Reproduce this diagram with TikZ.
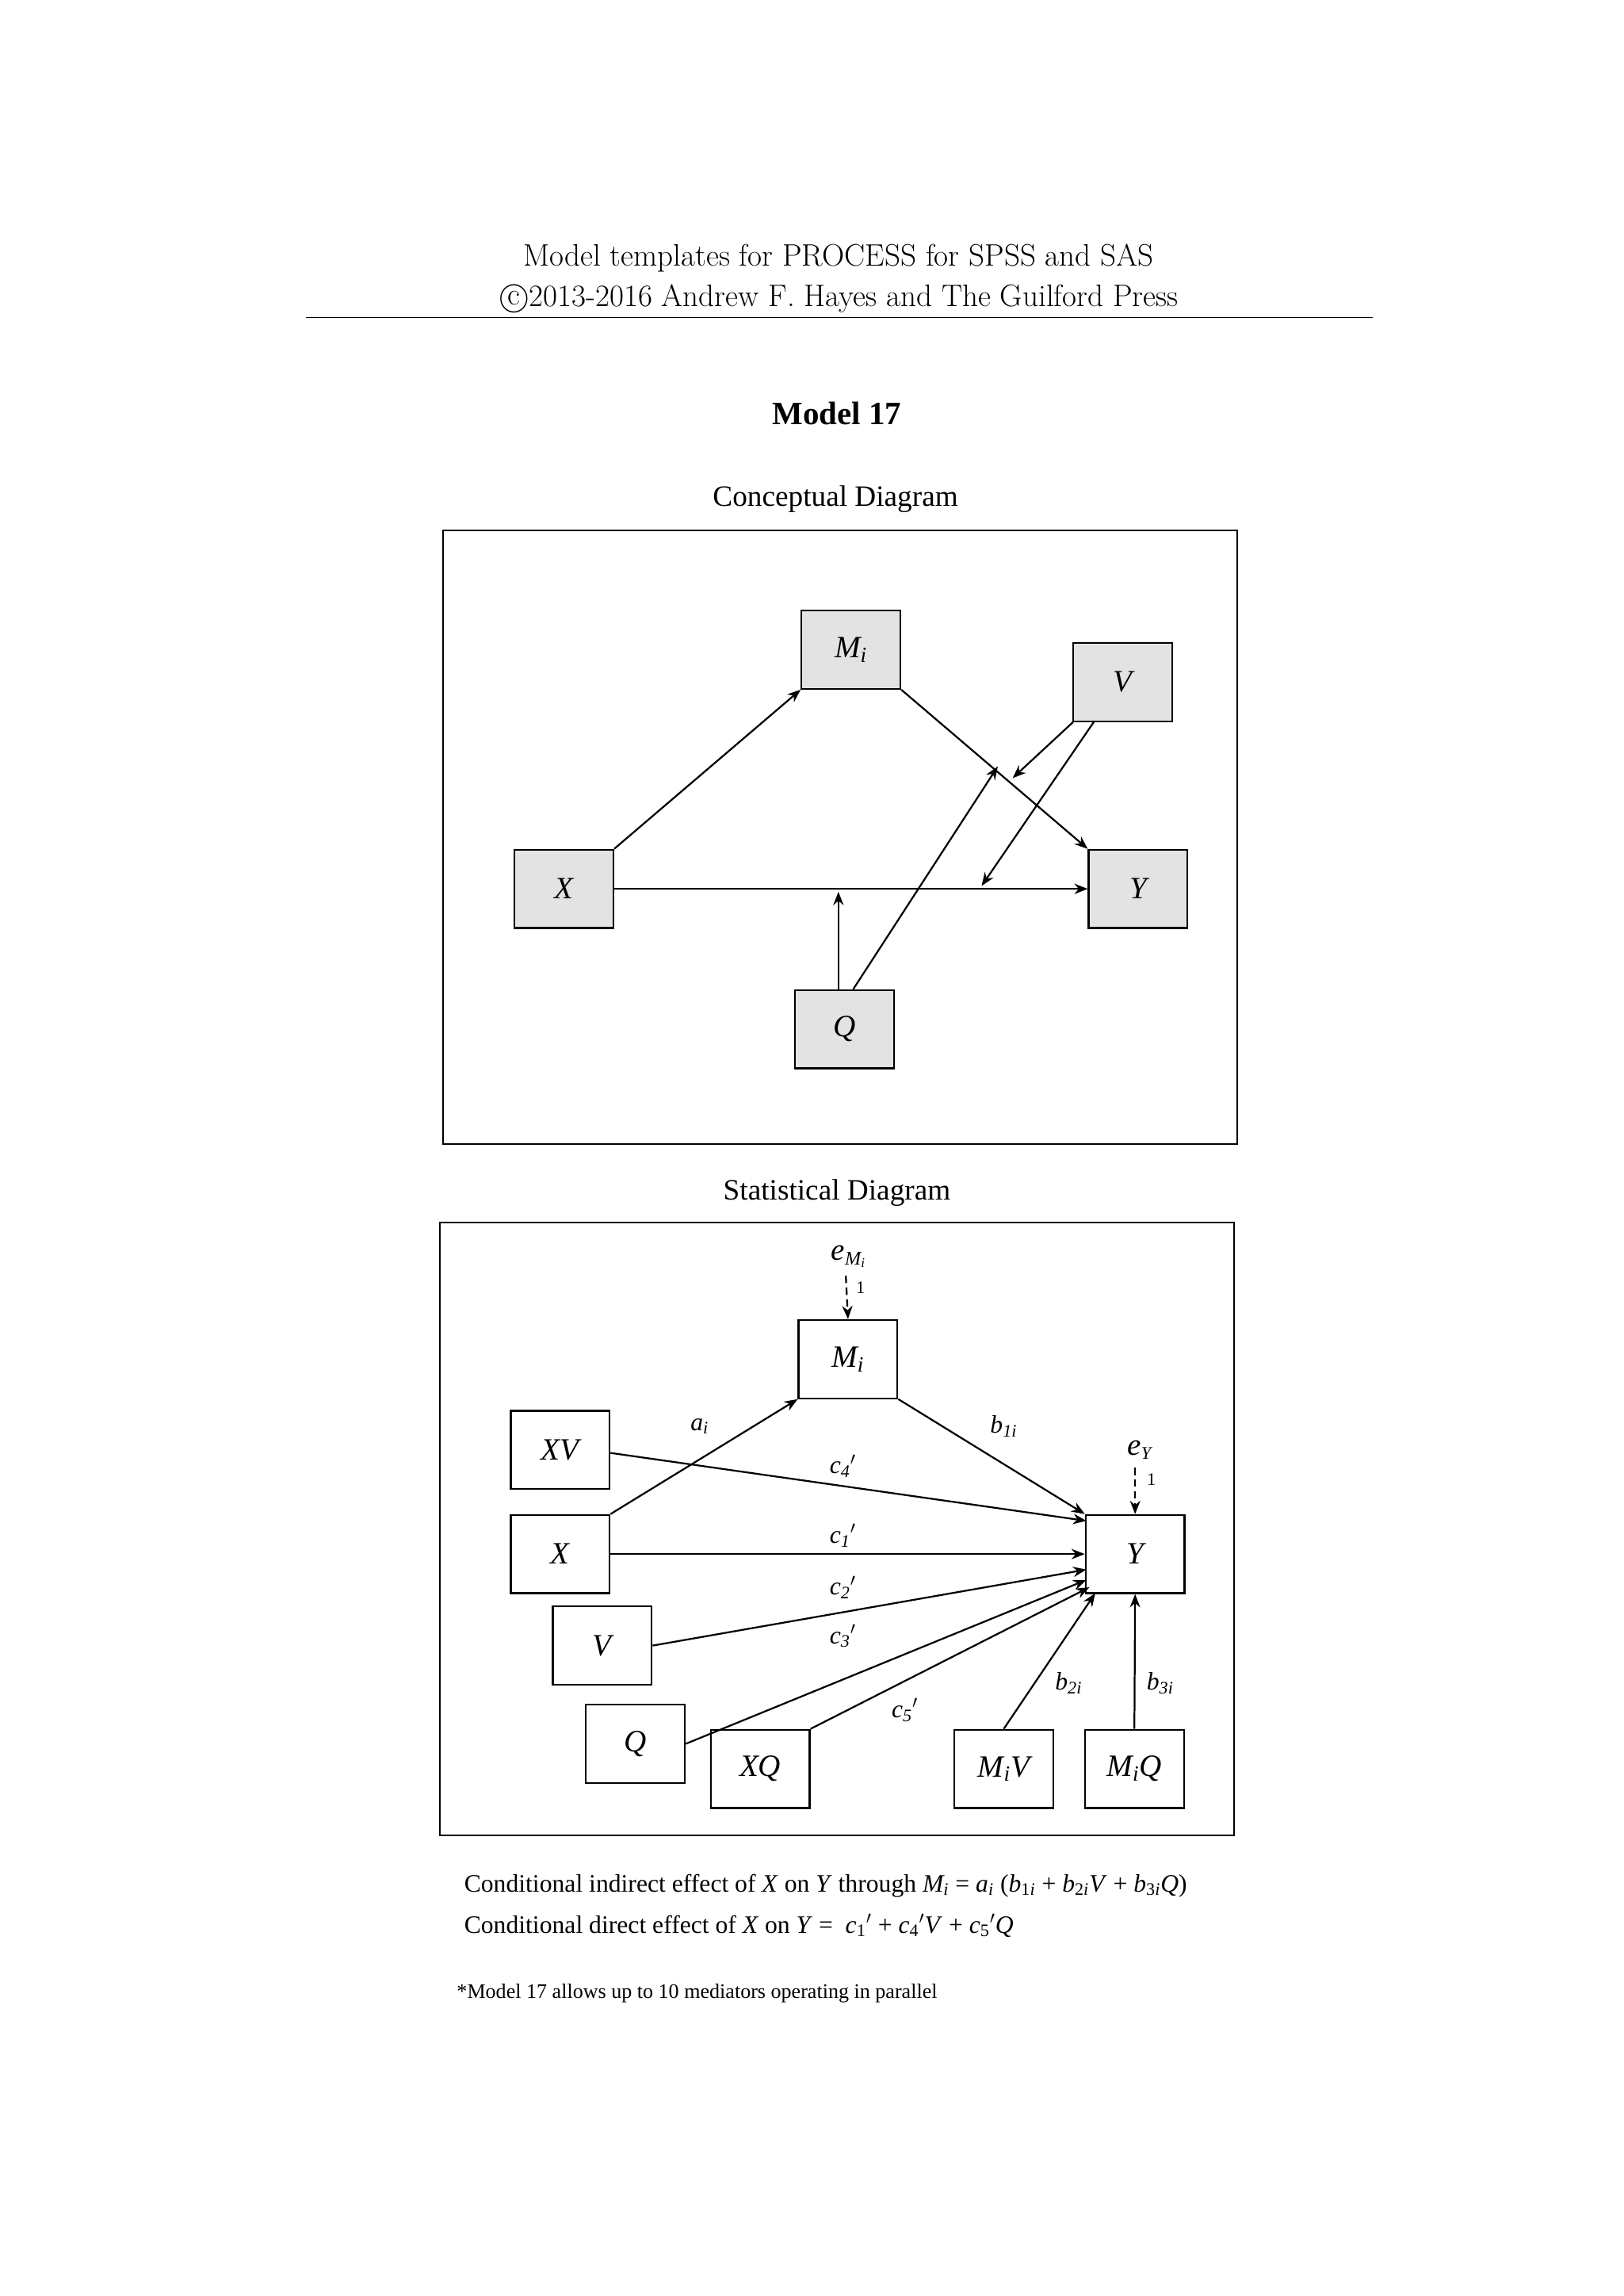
\documentclass[tikz,border=0pt]{standalone}
\usepackage{fontspec}
\newfontfamily\tms{Liberation Serif}
\usetikzlibrary{arrows.meta}
\newcommand{\iv}[1]{\textit{#1}}
\newcommand{\sbs}[1]{\textsubscript{\textit{#1}}}
\begin{document}
\begin{tikzpicture}[x=1pt,y=-1pt,
  box/.style={draw,line width=1.2pt,minimum width=67pt,minimum height=53pt,inner sep=0pt,font=\tms\fontsize{21}{21}\selectfont\itshape},
  gbox/.style={box,fill=gray!22},
  arr/.style={line width=1.2pt,-{Stealth[length=9pt,width=7pt]}},
  darr/.style={arr,dash pattern=on 5pt off 3pt},
  lab/.style={font=\tms\fontsize{17}{17}\selectfont\itshape,inner sep=1pt},
  one/.style={font=\tms\fontsize{12}{12}\selectfont}]
\useasboundingbox (0,0) rectangle (1100,1555);
% header
\node (h1) at (568,175) {\fontsize{21}{21}\selectfont Model templates for PROCESS for SPSS and SAS};
\node (h2) at (568,202) {\fontsize{21}{21}\selectfont \textcircled{c}2013-2016 Andrew F. Hayes and The Guilford Press};
\draw[line width=0.8pt] (207,215) -- (930,215);
\node (ttl) at (567,280) {\tms\bfseries\fontsize{22}{22}\selectfont Model 17};
\node (cd) at (566,338) {\tms\fontsize{20}{20}\selectfont Conceptual Diagram};
\draw[line width=1pt] (300,359) rectangle (838,775);
\node[gbox] (cM) at (576.5,440) {M\sbs{i}};
\node[gbox] (cV) at (760.5,462) {V};
\node[gbox] (cX) at (382,602) {X};
\node[gbox] (cY) at (771,602) {Y};
\node[gbox] (cQ) at (572,697) {Q};
\coordinate (p1) at (568,604);
\coordinate (p2) at (676,519);
\coordinate (p3) at (686,527);
\coordinate (p4) at (665,600);
\draw[arr] (cX.north east) -- (cM.south west);
\draw[arr] (cM.south east) -- (cY.north west);
\draw[arr] (cX) -- (cY);
\draw[arr] (568,670) -- (p1);
\draw[arr] (578,670) -- (p2);
\draw[arr] (727,489) -- (p3);
\draw[arr] (741,489) -- (p4);
% statistical
\node (sd) at (567,808) {\tms\fontsize{20}{20}\selectfont Statistical Diagram};
\draw[line width=1pt] (298,828) rectangle (836,1243);
\node[box] (M) at (574.5,920.5) {M\sbs{i}};
\node[box] (Y) at (769,1052.5) {Y};
\node[box] (XV) at (379.5,982) {XV};
\node[box] (X) at (379.5,1052.5) {X};
\node[box] (V) at (408,1114.5) {V};
\node[box] (Q) at (430.5,1181) {Q};
\node[box] (XQ) at (515,1198) {XQ};
\node[box] (MV) at (680,1198) {M\sbs{i}V};
\node[box] (MQ) at (768.5,1198) {M\sbs{i}Q};
\node[font=\tms\fontsize{21}{21}\selectfont\itshape] (eM) at (575,851) {e\textsubscript{\fontsize{13}{13}\selectfont M\textsubscript{i}}};
\node[font=\tms\fontsize{21}{21}\selectfont\itshape] (eY) at (772,982) {e\textsubscript{\fontsize{12}{12}\selectfont Y}};
\node[one] at (583,872) {1};
\node[one] at (780,1002) {1};
\draw[darr] (573,864) -- (M.north);
\draw[darr] (769,994) -- (Y.north);
\draw[arr] (X.north east) -- (M.south west);
\draw[arr] (M.south east) -- (Y.north west);
\draw[arr] (XV.east) ++(0,2) -- (736,1030);
\draw[arr] (X) -- (Y);
\draw[arr] (V.east) -- (736,1063);
\draw[arr] (Q.east) -- (736,1070);
\draw[arr] (XQ.north east) -- (738,1075);
\draw[arr] (MV.north) -- (742,1079);
\draw[arr] (MQ.north) -- (Y.south);
\node[lab] at (474,966) {a\sbs{i}};
\node[lab] at (680,966) {b\textsubscript{1\textit{i}}};
\node[lab] at (571,993) {c\textsubscript{4}\textup{$'$}};
\node[lab] at (571,1040) {c\textsubscript{1}\textup{$'$}};
\node[lab] at (571,1075) {c\textsubscript{2}\textup{$'$}};
\node[lab] at (571,1108) {c\textsubscript{3}\textup{$'$}};
\node[lab] at (613,1158) {c\textsubscript{5}\textup{$'$}};
\node[lab] at (724,1140) {b\textsubscript{2\textit{i}}};
\node[lab] at (786,1140) {b\textsubscript{3\textit{i}}};
\node[anchor=west,font=\tms\fontsize{17}{17}\selectfont] (t1) at (311,1277) {Conditional indirect effect of \iv{X} on \iv{Y} through \iv{M\textsubscript{i}} = \iv{a\textsubscript{i}} (\iv{b}\textsubscript{1\iv{i}} + \iv{b}\textsubscript{2\iv{i}}\iv{V} + \iv{b}\textsubscript{3\iv{i}}\iv{Q})};
\node[anchor=west,font=\tms\fontsize{17}{17}\selectfont] (t2) at (311,1304) {Conditional direct effect of \iv{X} on \iv{Y} = \ \iv{c}\textsubscript{1}$'$ + \iv{c}\textsubscript{4}$'$\iv{V} + \iv{c}\textsubscript{5}$'$\iv{Q}};
\node[anchor=west,font=\tms\fontsize{14}{14}\selectfont] (fn) at (306,1350) {*Model 17 allows up to 10 mediators operating in parallel};
\end{tikzpicture}
\end{document}
